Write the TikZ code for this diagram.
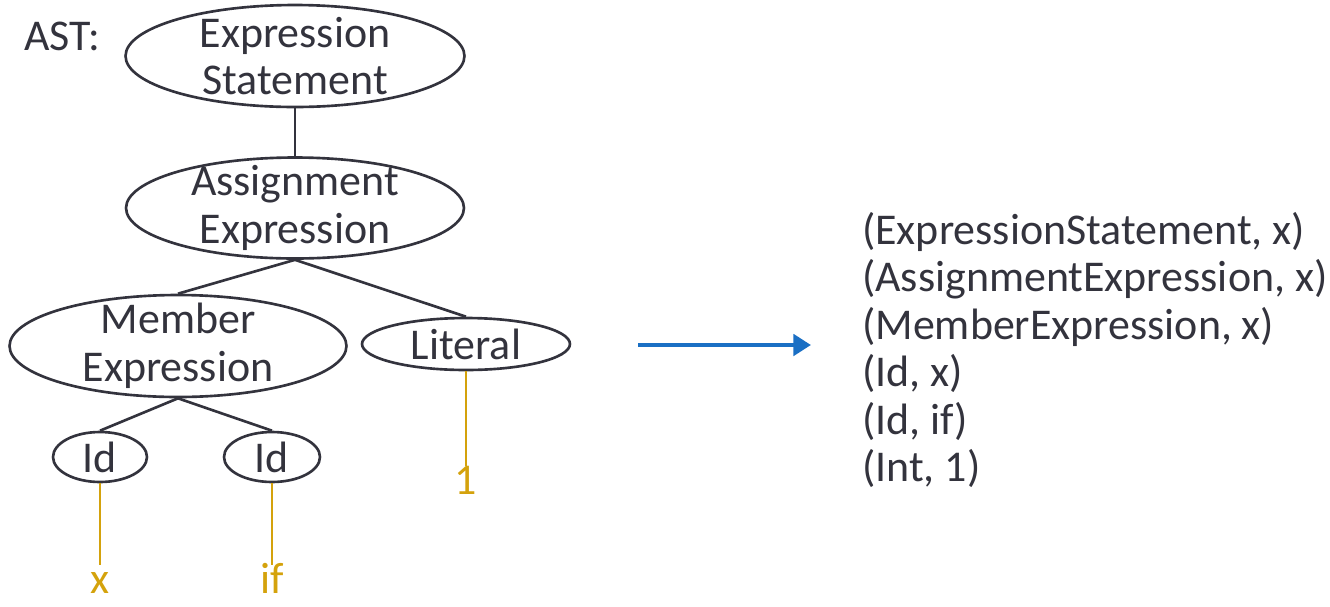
\documentclass[tikz,border=0pt]{standalone}
\usepackage{fontspec}
\setmainfont{Carlito}
\usetikzlibrary{shapes.geometric,arrows.meta}
\definecolor{ink}{HTML}{33333D}
\definecolor{gold}{HTML}{D4A20C}
\definecolor{flowblue}{HTML}{1A6FC4}
\begin{document}
\begin{tikzpicture}[x=0.02cm,y=-0.02cm,
		ast/.style={draw=ink,line width=1.5pt,ellipse,inner sep=0pt},
		asttext/.style={align=center,text=ink,font=\fontsize{25}{27}\selectfont},
		edge/.style={draw=ink,line width=1.5pt},
		leaf/.style={draw=gold,line width=1.5pt},
		tok/.style={text=gold,font=\fontsize{25}{27}\selectfont,text height=14pt,text depth=0pt,inner sep=2pt},
		flow/.style={draw=flowblue,line width=2.8pt,-{Triangle[length=10pt,width=12pt]}}]
	\useasboundingbox(0,0)rectangle(1330,606);
	\node[asttext,anchor=base west](astlbl)at(18,50){AST:};
	\node[ast,minimum width=6.78cm,minimum height=2.04cm,label={[asttext]center:Expression\\Statement}](stmt)at(295,56){};
	\node[ast,minimum width=6.76cm,minimum height=2.02cm,label={[asttext]center:Assignment\\Expression}](assign)at(295,208){};
	\node[ast,minimum width=6.74cm,minimum height=2.04cm,label={[asttext]center:Member\\Expression}](member)at(178,346){};
	\node[ast,minimum width=4.16cm,minimum height=1.04cm,label={[asttext]center:Literal}](lit)at(466,344){};
	\node[ast,minimum width=1.88cm,minimum height=1cm,label={[asttext]center:Id}](id1)at(100,457){};
	\node[ast,minimum width=1.92cm,minimum height=1cm,label={[asttext]center:Id}](id2)at(272,457){};
	\node[tok,anchor=base](tx)at(100,593){x};
	\node[tok,anchor=base](tif)at(272,593){if};
	\node[tok,anchor=base](tone)at(466,494){1};
	\draw[edge](stmt)--(assign);
	\draw[edge](assign.south)--(member.north);
	\draw[edge](assign.south)--(lit.north);
	\draw[edge](member.south)--(id1.north);
	\draw[edge](member.south)--(id2.north);
	\draw[leaf](id1.south)--(tx.north);
	\draw[leaf](id2.south)--(tif.north);
	\draw[leaf](lit.south)--(tone.north);
	\node[asttext,anchor=north west,align=left](pairs)at(856,206){(ExpressionStatement, x)\\(AssignmentExpression, x)\\(MemberExpression, x)\\(Id, x)\\(Id, if)\\(Int, 1)};
	\coordinate(start)at(638,345);
	\draw[flow](start)--(start-|pairs.west)[shorten >=0.9cm];
\end{tikzpicture}
\end{document}
